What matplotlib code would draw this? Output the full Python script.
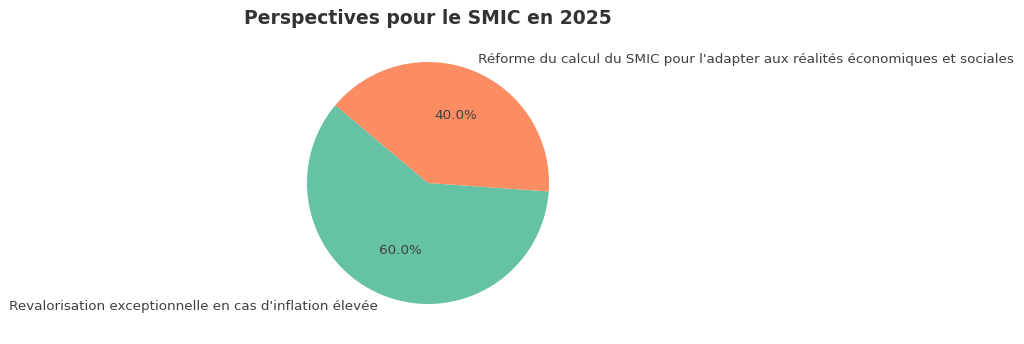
import matplotlib
matplotlib.use("Agg")
import matplotlib.pyplot as plt

title = "Perspectives pour le SMIC en 2025"
labels = ["Revalorisation exceptionnelle en cas d'inflation élevée",
          "Réforme du calcul du SMIC pour l'adapter aux réalités économiques et sociales"]
values = [60, 40]
colors = ["#66c2a5", "#fc8d62"]

W, H = 1024, 344
fig = plt.figure(figsize=(W / 100, H / 100), dpi=100)
R = 121.0
cx, cy = 428.0, 183.0
lim = 1.25
size = 2 * lim * R
ax = fig.add_axes([(cx - size / 2) / W, (H - cy - size / 2) / H, size / W, size / H])
wedges, texts, autotexts = ax.pie(values, labels=labels, colors=colors, startangle=140,
                                  autopct="%1.1f%%", textprops={"color": "#404040", "fontsize": 9.7})
ax.set_xlim(-lim, lim)
ax.set_ylim(-lim, lim)
ax.set_aspect("equal")
ax.axis("off")
fig.text(cx / W, 1 - 18 / H, title, ha="center", va="center", fontsize=13.5,
         fontweight="bold", color="#333333")
fig.savefig("out.png", dpi=100)
